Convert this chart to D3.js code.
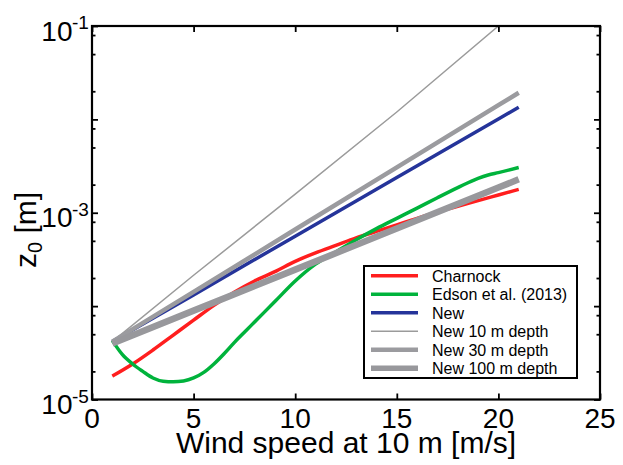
<!DOCTYPE html>
<html>
<head>
<meta charset="utf-8">
<script src="https://cdn.jsdelivr.net/npm/d3@7"></script>
<style>
  html, body { margin: 0; padding: 0; background: #fff; }
  svg { display: block; font-family: "Liberation Sans", Arial, Helvetica, sans-serif; }
</style>
</head>
<body>
<svg id="chart" width="623" height="465"></svg>
<script>
// Roughness length z0 [m] versus 10 m wind speed [m/s]
const windCharnock = [1, 2, 3, 4, 5, 6, 7, 8, 9, 10, 11, 12, 13, 14, 15, 16, 17, 18, 19, 20, 21];
const charnock = [1.78e-5, 2.40e-5, 3.39e-5, 4.90e-5, 7.08e-5, 1.02e-4, 1.41e-4, 1.86e-4, 2.34e-4, 3.02e-4,
                  3.72e-4, 4.47e-4, 5.37e-4, 6.31e-4, 7.41e-4, 8.71e-4, 1.02e-3, 1.17e-3, 1.35e-3, 1.55e-3, 1.78e-3];

const windEdson = [1, 1.5, 2, 2.5, 3, 3.5, 4, 4.5, 5, 5.5, 6, 6.5, 7, 7.5, 8, 9, 10, 11, 12, 13, 14, 15, 16, 17, 18, 19, 19.5, 20, 21];
const edson = [4.27e-5, 3.02e-5, 2.40e-5, 2.00e-5, 1.70e-5, 1.57e-5, 1.55e-5, 1.58e-5, 1.70e-5, 1.95e-5,
               2.40e-5, 3.09e-5, 4.07e-5, 5.25e-5, 6.76e-5, 1.12e-4, 1.86e-4, 2.82e-4, 3.80e-4, 5.13e-4,
               6.76e-4, 8.71e-4, 1.12e-3, 1.45e-3, 1.86e-3, 2.34e-3, 2.54e-3, 2.69e-3, 3.05e-3];

const windNew = [1, 5, 10, 15, 20, 21];
const newBase = [4.17e-5, 1.32e-4, 5.61e-4, 2.38e-3, 1.01e-2, 1.35e-2];
const new10m = [4.17e-5, 2.14e-4, 1.58e-3, 1.20e-2, 1.00e-1, 1.58e-1];
const new30m = [4.17e-5, 1.42e-4, 6.61e-4, 3.06e-3, 1.42e-2, 1.93e-2];
const new100m = [3.98e-5, 8.95e-5, 2.46e-4, 6.78e-4, 1.86e-3, 2.28e-3];

const xTicks = [0, 5, 10, 15, 20, 25];
const yMajor = [1e-5, 1e-4, 1e-3, 1e-2, 1e-1];
const yMinor = [2e-5, 5e-5, 8e-5, 2e-4, 5e-4, 8e-4, 2e-3, 5e-3, 8e-3, 2e-2, 5e-2, 8e-2];
const yLabelExp = [-5, -3, -1];

const seriesNames = ["Charnock", "Edson et al. (2013)", "New", "New 10 m depth", "New 30 m depth", "New 100 m depth"];
const seriesColors = ["#ff1e1e", "#00b33c", "#25349a", "#9b9b9b", "#9b9b9f", "#98989c"];
const seriesWidths = [3.5, 3.5, 3.5, 1.5, 4.5, 6.5];

const svg = d3.select("#chart");
const plotLeft = 92, plotRight = 600, plotTop = 26, plotBottom = 399.5;

const x = d3.scaleLinear().domain([0, 25]).range([plotLeft, plotRight]);
const y = d3.scaleLog().domain([1e-5, 1e-1]).range([plotBottom, plotTop]);

const series = [
  { wind: windCharnock, z: charnock, curve: d3.curveMonotoneX },
  { wind: windEdson, z: edson, curve: d3.curveMonotoneX },
  { wind: windNew, z: newBase, curve: d3.curveLinear },
  { wind: windNew, z: new10m, curve: d3.curveLinear },
  { wind: windNew, z: new30m, curve: d3.curveLinear },
  { wind: windNew, z: new100m, curve: d3.curveLinear }
];

svg.append("defs").append("clipPath").attr("id", "plotClip")
  .append("rect").attr("x", plotLeft).attr("y", plotTop)
  .attr("width", plotRight - plotLeft).attr("height", plotBottom - plotTop);

// curves
const plot = svg.append("g").attr("clip-path", "url(#plotClip)");
series.forEach((s, i) => {
  const pts = s.wind.map((w, j) => [w, s.z[j]]);
  const line = d3.line().x(d => x(d[0])).y(d => y(d[1])).curve(s.curve);
  plot.append("path")
    .attr("d", line(pts))
    .attr("fill", "none")
    .attr("stroke", seriesColors[i])
    .attr("stroke-width", seriesWidths[i])
    .attr("stroke-linejoin", "round")
    .attr("stroke-linecap", "butt");
});

// ticks on all four sides, pointing inward
function tickAxis(axis, transform) {
  const g = svg.append("g").attr("transform", transform).call(axis);
  g.select(".domain").remove();
  g.selectAll(".tick line").attr("stroke", "#000").attr("stroke-width", 1.8);
  g.selectAll(".tick text").remove();
  return g;
}
tickAxis(d3.axisBottom(x).tickValues(xTicks).tickSizeInner(-6).tickSizeOuter(0), `translate(0,${plotBottom})`);
tickAxis(d3.axisTop(x).tickValues(xTicks).tickSizeInner(-6).tickSizeOuter(0), `translate(0,${plotTop})`);
tickAxis(d3.axisLeft(y).tickValues(yMajor).tickSizeInner(-6).tickSizeOuter(0), `translate(${plotLeft},0)`);
tickAxis(d3.axisRight(y).tickValues(yMajor).tickSizeInner(-6).tickSizeOuter(0), `translate(${plotRight},0)`);
tickAxis(d3.axisLeft(y).tickValues(yMinor).tickSizeInner(-3.5).tickSizeOuter(0), `translate(${plotLeft},0)`);
tickAxis(d3.axisRight(y).tickValues(yMinor).tickSizeInner(-3.5).tickSizeOuter(0), `translate(${plotRight},0)`);

// frame
svg.append("rect")
  .attr("x", plotLeft).attr("y", plotTop)
  .attr("width", plotRight - plotLeft).attr("height", plotBottom - plotTop)
  .attr("fill", "none").attr("stroke", "#000").attr("stroke-width", 2.2);

// x tick labels
svg.append("g").selectAll("text").data(xTicks).join("text")
  .attr("x", d => x(d)).attr("y", 428)
  .attr("text-anchor", "middle").attr("font-size", 28).attr("fill", "#000")
  .text(d => d);

// y tick labels: 10 with exponent
const yl = svg.append("g").selectAll("g").data(yLabelExp).join("g");
yl.append("text")
  .attr("x", 72.5).attr("y", d => y(Math.pow(10, d)) + 14.5)
  .attr("text-anchor", "end").attr("font-size", 28).attr("fill", "#000")
  .text("10");
yl.append("text")
  .attr("x", 72).attr("y", d => y(Math.pow(10, d)) + 3)
  .attr("text-anchor", "start").attr("font-size", 19).attr("fill", "#000")
  .text(d => "-" + Math.abs(d));

// axis titles
svg.append("text")
  .attr("x", (plotLeft + plotRight) / 2).attr("y", 453)
  .attr("text-anchor", "middle").attr("font-size", 30).attr("fill", "#000")
  .text("Wind speed at 10 m [m/s]");

const yt = svg.append("text")
  .attr("transform", "translate(35.5,268) rotate(-90)")
  .attr("text-anchor", "start").attr("font-size", 30).attr("fill", "#000");
yt.append("tspan").text("z");
yt.append("tspan").attr("font-size", 20).attr("dy", 6).text("0");
yt.append("tspan").attr("dy", -6).text(" [m]");

// legend
const lg = svg.append("g");
lg.append("rect").attr("x", 364).attr("y", 266).attr("width", 213).attr("height", 112)
  .attr("fill", "#fff").attr("stroke", "#000").attr("stroke-width", 2);
const rows = lg.selectAll("g.row").data(seriesNames).join("g").attr("class", "row")
  .attr("transform", (d, i) => `translate(0,${275.7 + i * 18.5})`);
rows.append("line")
  .attr("x1", 371).attr("x2", 418).attr("y1", 0).attr("y2", 0)
  .attr("stroke", (d, i) => seriesColors[i])
  .attr("stroke-width", (d, i) => Math.min(seriesWidths[i], 5.5));
rows.append("text")
  .attr("x", 432).attr("y", 5.8)
  .attr("font-size", 16).attr("fill", "#000")
  .text(d => d);
</script>
</body>
</html>
